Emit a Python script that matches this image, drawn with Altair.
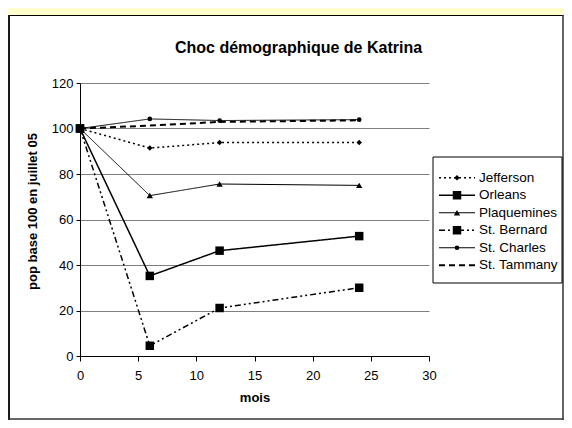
import altair as alt
import pandas as pd

# ---- data ----
series = ["Jefferson", "Orleans", "Plaquemines", "St. Bernard", "St. Charles", "St. Tammany"]
mois = [0, 6, 12, 24]
jefferson = [100, 91.4, 93.8, 93.8]
orleans = [100, 35.2, 46.3, 52.7]
plaquemines = [100, 70.5, 75.6, 75.0]
st_bernard = [100, 4.5, 21.1, 30.0]
st_charles = [100, 104.2, 103.5, 103.9]
st_tammany = [100, 101.3, 102.9, 103.6]

x_ticks = [0, 5, 10, 15, 20, 25, 30]
y_ticks = [0, 20, 40, 60, 80, 100, 120]

values = [jefferson, orleans, plaquemines, st_bernard, st_charles, st_tammany]
rows = []
for name, vals in zip(series, values):
    for m, v in zip(mois, vals):
        rows.append({"series": name, "mois": m, "value": v})
df = pd.DataFrame(rows)
df_leg = pd.DataFrame({"series": series})

FONT = "Arial, Liberation Sans, sans-serif"

# styles
dash_range = [[2, 3], [1, 0], [1, 0], [6, 3, 2, 3, 2, 3], [1, 0], [6, 4]]
width_range = [1.5, 1.5, 1, 1.5, 1, 2]
marker_series = ["Jefferson", "Orleans", "Plaquemines", "St. Bernard", "St. Charles"]
shape_range = ["diamond", "square", "triangle-up", "square", "circle"]
size_range = [30, 72, 40, 72, 22]

dash_enc = alt.StrokeDash("series:N", scale=alt.Scale(domain=series, range=dash_range), legend=None)
width_enc = alt.StrokeWidth("series:N", scale=alt.Scale(type="ordinal", domain=series, range=width_range), legend=None)
shape_enc = alt.Shape("series:N", scale=alt.Scale(domain=marker_series, range=shape_range), legend=None)
size_enc = alt.Size("series:N", scale=alt.Scale(type="ordinal", domain=marker_series, range=size_range), legend=None)

x_enc = alt.X(
    "mois:Q",
    scale=alt.Scale(domain=[0, 30], nice=False, zero=False),
    axis=alt.Axis(
        values=x_ticks, title="mois", grid=False, tickSize=5, tickColor="black",
        domainColor="black", labelFont=FONT, labelFontSize=13, labelColor="black",
        labelPadding=8, titleFont=FONT, titleFontSize=13, titleFontWeight="bold",
        titleColor="black", titlePadding=9, labelFlush=False,
    ),
)
y_enc = alt.Y(
    "value:Q",
    scale=alt.Scale(domain=[0, 120], nice=False),
    axis=alt.Axis(
        values=y_ticks, title="pop base 100 en juillet 05", grid=True,
        gridColor="#808080", gridWidth=1, tickSize=4, tickColor="black",
        domainColor="black", labelFont=FONT, labelFontSize=13, labelColor="black",
        labelPadding=3, titleFont=FONT, titleFontSize=13, titleFontWeight="bold",
        titleColor="black", titleX=-48, titleY=128, titleAngle=-90,
        titleAlign="center", titleBaseline="middle",
    ),
)

base = alt.Chart(df)
lines = base.mark_line(color="black").encode(
    x=x_enc, y=y_enc, strokeDash=dash_enc, strokeWidth=width_enc, detail="series:N"
)
points = base.transform_filter(alt.datum.series != "St. Tammany").mark_point(
    filled=True, color="black", opacity=1
).encode(x="mois:Q", y="value:Q", shape=shape_enc, size=size_enc)
data_layer = alt.layer(lines, points)

# ---- legend (drawn from the series list) ----
leg_y = alt.Y("series:N", scale=alt.Scale(domain=series, range=[86, 191], padding=0), axis=None)
one = pd.DataFrame({"a": [0]})
leg_box = alt.Chart(one).mark_rect(fill="white", stroke="black", strokeWidth=1).encode(
    x=alt.value(353), x2=alt.value(482), y=alt.value(74), y2=alt.value(200)
)
leg_rules = alt.Chart(df_leg).mark_rule(color="black").encode(
    x=alt.value(359), x2=alt.value(395), y=leg_y, strokeDash=dash_enc, strokeWidth=width_enc
)
leg_pts = alt.Chart(df_leg).transform_filter(alt.datum.series != "St. Tammany").mark_point(
    filled=True, color="black", opacity=1
).encode(x=alt.value(377), y=leg_y, shape=shape_enc, size=size_enc)
leg_txt = alt.Chart(df_leg).mark_text(
    align="left", baseline="middle", font=FONT, fontSize=13.5, color="black"
).encode(x=alt.value(399), y=leg_y, text="series:N")
legend_layer = alt.layer(leg_box, leg_rules, leg_pts, leg_txt)

# ---- frame & title ----
yellow = alt.Chart(one).mark_rect(fill="#FFFFCC").encode(
    x=alt.value(-72), x2=alt.value(484), y=alt.value(-75), y2=alt.value(-68)
)
frame_top = alt.Chart(one).mark_rule(color="black", strokeWidth=1).encode(
    x=alt.value(-71.5), x2=alt.value(483.5), y=alt.value(-67.5)
)
frame_left = alt.Chart(one).mark_rule(color="#1a1a1a", strokeWidth=2).encode(
    x=alt.value(-71), y=alt.value(-68), y2=alt.value(337)
)
frame_right = alt.Chart(one).mark_rule(color="#333333", strokeWidth=1.5).encode(
    x=alt.value(483), y=alt.value(-68), y2=alt.value(337)
)
frame_bottom = alt.Chart(one).mark_rule(color="#333333", strokeWidth=1.5).encode(
    x=alt.value(-71.5), x2=alt.value(483.5), y=alt.value(336)
)
title = alt.Chart(one).mark_text(
    text="Choc démographique de Katrina", font=FONT, fontSize=16, fontWeight="bold",
    align="center", baseline="alphabetic", color="black"
).encode(x=alt.value(218.5), y=alt.value(-30.3))

chart = alt.layer(
    yellow, frame_top, frame_left, frame_right, frame_bottom, title,
    data_layer, legend_layer
).resolve_scale(y="independent").properties(
    width=349, height=273,
    autosize=alt.AutoSizeParams(type="none"),
    padding={"left": 72, "top": 75, "right": 135, "bottom": 64},
    background="white",
).configure_view(stroke=None)

chart.save("out.html", embed_options={"renderer": "svg", "actions": False})
